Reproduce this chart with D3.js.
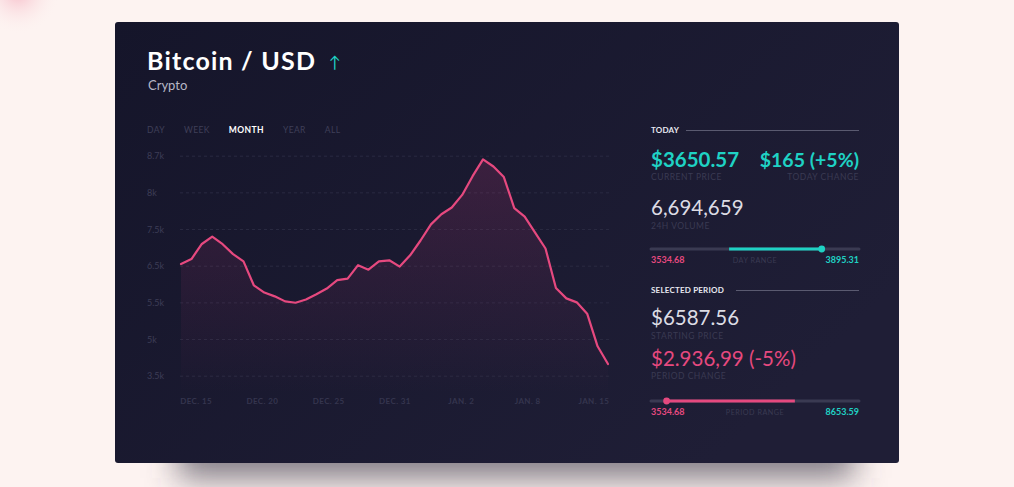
<!DOCTYPE html>
<html>
<head>
<meta charset="utf-8">
<script src="https://cdn.jsdelivr.net/npm/d3@7"></script>
<style>
  html, body { margin: 0; padding: 0; background: #fdf3f1; overflow: hidden; }
  svg { display: block; }
  text { font-family: Lato, "Open Sans", sans-serif; }
</style>
</head>
<body>
<svg id="chart" width="1014" height="487"></svg>
<script>
// Daily closing prices for the selected month (USD)
const prices = [
  6546, 6680, 7092, 7291, 7086, 6816, 6617, 5961, 5767, 5664,
  5527, 5495, 5579, 5721, 5876, 6105, 6149, 6514, 6391, 6617,
  6647, 6475, 6784, 7187, 7563, 7702, 7793, 7965, 8309, 8630,
  8494, 8292, 7786, 7668, 7403, 6969, 5890, 5609, 5500, 5346,
  4702, 3979
];
const xLabels = ["DEC. 15", "DEC. 20", "DEC. 25", "DEC. 31", "JAN. 2", "JAN. 8", "JAN. 15"];
const yTickValues = [3500, 5000, 5500, 6500, 7500, 8000, 8700];
const yTickLabels = ["3.5k", "5k", "5.5k", "6.5k", "7.5k", "8k", "8.7k"];
const tabs = ["DAY", "WEEK", "MONTH", "YEAR", "ALL"];
const activeTab = "MONTH";

// Summary figures
const currentPrice = "$3650.57";
const todayChange = "$165 (+5%)";
const volume24h = "6,694,659";
const dayLow = 3534.68, dayHigh = 3895.31;
const dayTrack = [3400, 3930];      // extent of the day range track
const dayBand = [3599, 3835];       // highlighted part of the day track
const startingPrice = "$6587.56";
const periodChange = "$2.936,99 (-5%)";
const periodLow = 3534.68, periodHigh = 8653.59;
const periodTrack = [3000, 9000];
const periodBand = [3450, 7150];

const PINK = "#e6497f";
const TEAL = "#1fd2c4";

const svg = d3.select("#chart");
const defs = svg.append("defs");

// Page backdrop accents
const blob = defs.append("radialGradient").attr("id", "blob");
blob.append("stop").attr("offset", "0%").attr("stop-color", "#f6b9c6").attr("stop-opacity", 0.9);
blob.append("stop").attr("offset", "100%").attr("stop-color", "#fdf3f1").attr("stop-opacity", 0);
svg.append("circle").attr("cx", 18).attr("cy", -8).attr("r", 42).attr("fill", "url(#blob)");

const shadowBlur = defs.append("filter").attr("id", "shadow")
  .attr("x", "-20%").attr("y", "-50%").attr("width", "140%").attr("height", "200%");
shadowBlur.append("feGaussianBlur").attr("stdDeviation", 16);
svg.append("rect")
  .attr("x", 178).attr("y", 390).attr("width", 676).attr("height", 88)
  .attr("fill", "#4a4656").attr("fill-opacity", 0.7).attr("filter", "url(#shadow)");

// Card
const cardGrad = defs.append("linearGradient").attr("id", "card")
  .attr("x1", "0%").attr("y1", "0%").attr("x2", "100%").attr("y2", "60%");
cardGrad.append("stop").attr("offset", "0%").attr("stop-color", "#15152a");
cardGrad.append("stop").attr("offset", "100%").attr("stop-color", "#1f1e36");
svg.append("rect")
  .attr("x", 115).attr("y", 22).attr("width", 784).attr("height", 441)
  .attr("rx", 3).attr("fill", "url(#card)");

// Header
svg.append("text").attr("x", 147).attr("y", 69.5)
  .attr("font-size", 25).attr("font-weight", 700).attr("letter-spacing", 1.2).attr("fill", "#ffffff")
  .text("Bitcoin / USD");
svg.append("text").attr("x", 329).attr("y", 67.5)
  .attr("font-size", 16).attr("font-weight", 400).attr("fill", TEAL)
  .text("↑");
svg.append("text").attr("x", 148).attr("y", 90)
  .attr("font-size", 13).attr("fill", "#b7b6c6")
  .text("Crypto");

// Period tabs, laid out one after another
const tabG = svg.append("g");
let tabCursor = 147;
tabs.forEach(t => {
  const el = tabG.append("text").attr("x", tabCursor).attr("y", 132.5)
    .attr("font-size", 8.5).attr("letter-spacing", 0.4)
    .attr("font-weight", t === activeTab ? 700 : 400)
    .attr("fill", t === activeTab ? "#ffffff" : "#3f3f58")
    .text(t);
  tabCursor += el.node().getComputedTextLength() + 19;
});

// Scales
const yStep = 36.67, yBottom = 375.7;
const y = d3.scaleLinear()
  .domain(yTickValues)
  .range(yTickValues.map((_, i) => yBottom - i * yStep));
const x = d3.scaleLinear().domain([0, prices.length - 1]).range([181, 608]);
const xBand = d3.scalePoint().domain(xLabels).range([181, 608]).padding(0.22);

// Grid lines and y labels
const yAxis = d3.axisLeft(y).tickValues(yTickValues)
  .tickFormat((d, i) => yTickLabels[i]).tickSize(-430).tickPadding(0);
const gy = svg.append("g").attr("transform", "translate(180,0)").call(yAxis);
gy.select(".domain").remove();
gy.selectAll(".tick line")
  .attr("stroke", "#2a2a42").attr("stroke-width", 1).attr("stroke-dasharray", "3,3");
gy.selectAll(".tick text")
  .attr("x", -33).attr("text-anchor", "start").attr("dy", "0.35em")
  .attr("font-family", "Lato, sans-serif").attr("font-size", 9).attr("fill", "#3d3d56");

// X labels
const xAxis = d3.axisBottom(xBand).tickSize(0).tickPadding(0);
const gx = svg.append("g").attr("transform", "translate(0,398)").call(xAxis);
gx.select(".domain").remove();
gx.selectAll(".tick text")
  .attr("font-family", "Lato, sans-serif").attr("font-size", 8)
  .attr("font-weight", 700).attr("letter-spacing", 0.4).attr("fill", "#35354e");

// Area under the price line
const areaGrad = defs.append("linearGradient").attr("id", "area")
  .attr("gradientUnits", "userSpaceOnUse")
  .attr("x1", 0).attr("y1", 155).attr("x2", 0).attr("y2", 395);
areaGrad.append("stop").attr("offset", "0%").attr("stop-color", "#c33a7a").attr("stop-opacity", 0.2);
areaGrad.append("stop").attr("offset", "100%").attr("stop-color", "#c33a7a").attr("stop-opacity", 0.0);

const area = d3.area()
  .x((d, i) => x(i)).y0(yBottom + 15).y1(d => y(d));
svg.append("path").datum(prices).attr("d", area).attr("fill", "url(#area)");

const line = d3.line().x((d, i) => x(i)).y(d => y(d));
svg.append("path").datum(prices).attr("d", line)
  .attr("fill", "none").attr("stroke", PINK).attr("stroke-width", 2.2)
  .attr("stroke-linejoin", "round").attr("stroke-linecap", "round");

// Right-hand summary panel
const px0 = 651, px1 = 859;
const panel = svg.append("g");

function sectionHeader(label, yy, lineStart) {
  panel.append("text").attr("x", px0).attr("y", yy)
    .attr("font-size", 8).attr("font-weight", 700).attr("letter-spacing", 0.2)
    .attr("fill", "#e8e8f0").text(label);
  panel.append("line").attr("x1", lineStart).attr("x2", px1)
    .attr("y1", yy - 2).attr("y2", yy - 2)
    .attr("stroke", "#5a5a70").attr("stroke-width", 1.2);
}
function caption(label, xx, yy, anchor) {
  panel.append("text").attr("x", xx).attr("y", yy).attr("text-anchor", anchor || "start")
    .attr("font-size", 8.5).attr("letter-spacing", 0.5).attr("fill", "#3a3a52").text(label);
}
function bigValue(label, xx, yy, color, weight, anchor, size) {
  panel.append("text").attr("x", xx).attr("y", yy).attr("text-anchor", anchor || "start")
    .attr("font-size", size || 20.5).attr("font-weight", weight).attr("fill", color).text(label);
}
function rangeBar(yy, track, band, color, dotAt, leftLabel, midLabel, rightLabel) {
  const rx = d3.scaleLinear().domain(track).range([px0, px1]);
  panel.append("line").attr("x1", px0).attr("x2", px1).attr("y1", yy).attr("y2", yy)
    .attr("stroke", "#3a3a52").attr("stroke-width", 3).attr("stroke-linecap", "round");
  panel.append("line").attr("x1", rx(band[0])).attr("x2", rx(band[1])).attr("y1", yy).attr("y2", yy)
    .attr("stroke", color).attr("stroke-width", 3);
  panel.append("circle").attr("cx", rx(dotAt)).attr("cy", yy).attr("r", 3.4).attr("fill", color);
  const ly = yy + 13.5;
  panel.append("text").attr("x", px0).attr("y", ly).attr("font-size", 9).attr("font-weight", 700)
    .attr("fill", PINK).text(leftLabel);
  panel.append("text").attr("x", 755).attr("y", ly).attr("text-anchor", "middle")
    .attr("font-size", 7.2).attr("letter-spacing", 0.5).attr("fill", "#3a3a52").text(midLabel);
  panel.append("text").attr("x", px1).attr("y", ly).attr("text-anchor", "end")
    .attr("font-size", 9).attr("font-weight", 700).attr("fill", TEAL).text(rightLabel);
}

sectionHeader("TODAY", 132.5, 686);
bigValue(currentPrice, px0, 166.5, TEAL, 700);
bigValue(todayChange, px1, 166.5, TEAL, 700, "end", 19.5);
caption("CURRENT PRICE", px0, 179.5);
caption("TODAY CHANGE", px1, 179.5, "end");
bigValue(volume24h, px0, 215, "#dcdce4", 400);
caption("24H VOLUME", px0, 228.5);
rangeBar(249, dayTrack, dayBand, TEAL, dayBand[1],
  dayLow.toFixed(2), "DAY RANGE", dayHigh.toFixed(2));

sectionHeader("SELECTED PERIOD", 292.5, 736);
bigValue(startingPrice, px0, 325, "#dcdce4", 400);
caption("STARTING PRICE", px0, 339);
bigValue(periodChange, px0, 365.5, PINK, 400);
caption("PERIOD CHANGE", px0, 378.5);
rangeBar(401, periodTrack, periodBand, PINK, periodBand[0],
  periodLow.toFixed(2), "PERIOD RANGE", periodHigh.toFixed(2));
</script>
</body>
</html>
